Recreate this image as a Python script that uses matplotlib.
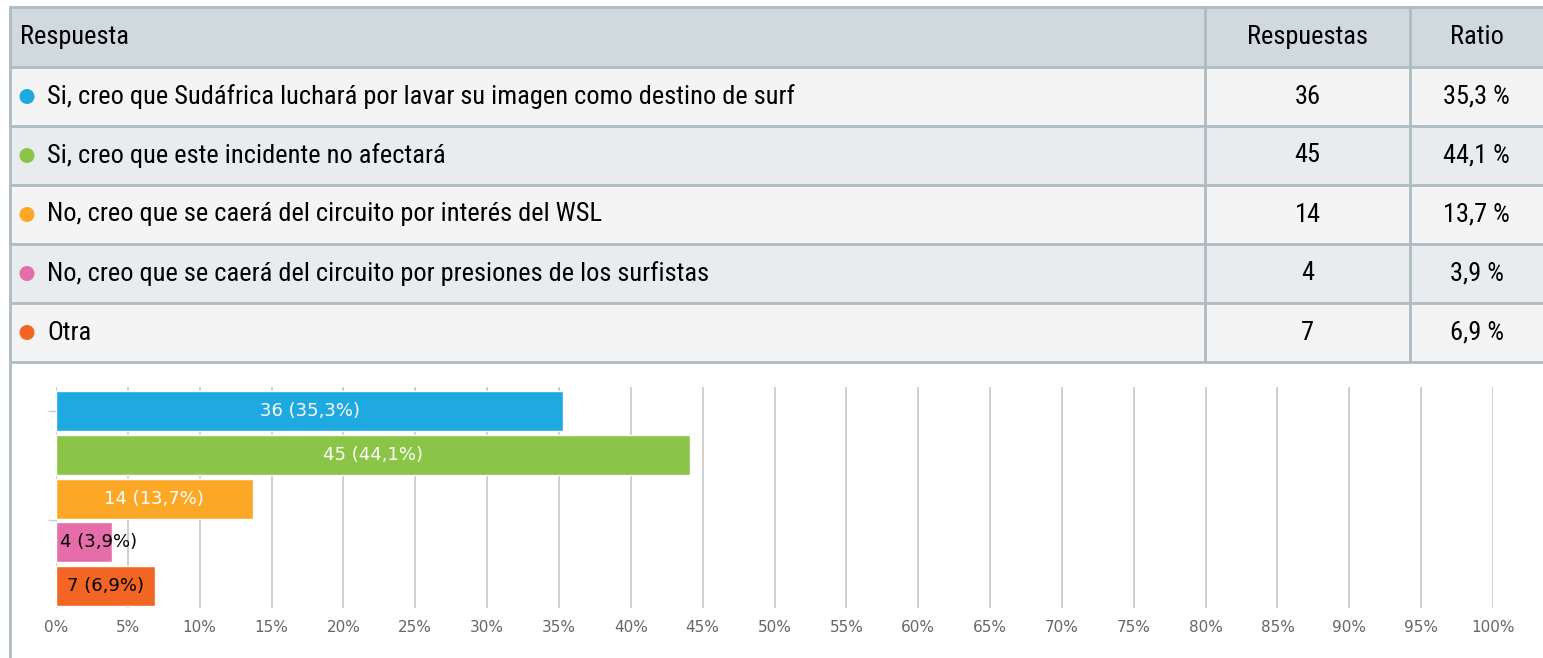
import matplotlib.pyplot as plt
from matplotlib import font_manager
from matplotlib.patches import Rectangle, Circle

# data
answers = [
    'Si, creo que Sudáfrica luchará por lavar su imagen como destino de surf',
    'Si, creo que este incidente no afectará',
    'No, creo que se caerá del circuito por interés del WSL',
    'No, creo que se caerá del circuito por presiones de los surfistas',
    'Otra',
]
counts = [36, 45, 14, 4, 7]
ratios = [35.3, 44.1, 13.7, 3.9, 6.9]
colors = ['#1fa9e1', '#8bc548', '#fca826', '#e56daa', '#f26522']
headers = ['Respuesta', 'Respuestas', 'Ratio']
xticks = list(range(0, 101, 5))


def pick_font(names, default='DejaVu Sans'):
    have = {f.name for f in font_manager.fontManager.ttflist}
    for n in names:
        if n in have:
            return n
    return default


table_font = pick_font(['Liberation Sans Narrow', 'DejaVu Sans Condensed', 'Roboto Condensed',
                        'Open Sans Condensed', 'Liberation Sans'])

W, H = 1543, 658
fig = plt.figure(figsize=(W / 100, H / 100), dpi=100)

# table drawn in pixel coordinates
bg = fig.add_axes([0, 0, 1, 1])
bg.set_xlim(0, W)
bg.set_ylim(H, 0)
bg.axis('off')

border = '#aebbc1'
top, row_h, head_h = 7, 59, 60
col_x = [10, 1205, 1410, W]
bg.add_patch(Rectangle((col_x[0], top), W - col_x[0], head_h, fc='#d0d9dd', ec='none'))
for i in range(len(answers)):
    y0 = top + head_h + i * row_h
    bg.add_patch(Rectangle((col_x[0], y0), W - col_x[0], row_h,
                           fc='#f4f4f4' if i % 2 == 0 else '#e8ecee', ec='none'))
bottom = top + head_h + len(answers) * row_h
for k in range(len(answers) + 2):
    y = top if k == 0 else top + head_h + (k - 1) * row_h
    bg.plot([col_x[0], W], [y, y], color=border, lw=2, solid_capstyle='butt')
bg.plot([col_x[0], col_x[0]], [top, H], color=border, lw=2)
for x in col_x[1:3]:
    bg.plot([x, x], [top, bottom], color=border, lw=2)

fs = 19
cy = top + head_h / 2
bg.text(20, cy, headers[0], fontsize=fs, family=table_font, va='center', ha='left')
bg.text((col_x[1] + col_x[2]) / 2, cy, headers[1], fontsize=fs, family=table_font, va='center', ha='center')
bg.text((col_x[2] + col_x[3]) / 2, cy, headers[2], fontsize=fs, family=table_font, va='center', ha='center')
for i, (a, c, r, col) in enumerate(zip(answers, counts, ratios, colors)):
    cy = top + head_h + i * row_h + row_h / 2
    bg.add_patch(Circle((27, cy), 7.5, fc=col, ec='none'))
    bg.text(47, cy, a, fontsize=fs, family=table_font, va='center', ha='left')
    bg.text((col_x[1] + col_x[2]) / 2, cy, str(c), fontsize=fs, family=table_font, va='center', ha='center')
    bg.text((col_x[2] + col_x[3]) / 2, cy, '{:.1f} %'.format(r).replace('.', ','),
            fontsize=fs, family=table_font, va='center', ha='center')

# bar chart
ax = fig.add_axes([56 / W, 50 / H, (1493 - 56) / W, 221 / H])
pos = list(range(len(counts)))
ax.barh(pos, ratios, height=0.91, color=colors, edgecolor='white', linewidth=1, zorder=2)
ax.set_xlim(0, 100)
ax.set_ylim(4.5, -0.55)
ax.set_xticks(xticks)
ax.set_xticklabels(['{}%'.format(t) for t in xticks])
ax.set_yticks([0, 2.5])
ax.set_yticklabels([])
ax.tick_params(axis='x', length=0, pad=9, labelsize=11, labelcolor='#666666')
ax.tick_params(axis='y', length=6, color='#c3d1df', width=1)
ax.grid(axis='x', color='#cccccc', lw=1.3, zorder=0)
for s in ax.spines.values():
    s.set_visible(False)

fig.canvas.draw()
rend = fig.canvas.get_renderer()
for p, c, r in zip(pos, counts, ratios):
    label = '{} ({:.1f}%)'.format(c, r).replace('.', ',')
    t = ax.text(r / 2, p, label, fontsize=13, va='center', ha='center',
                color='white' if r >= 10 else 'black', zorder=3)
    tw = t.get_window_extent(rend).width
    bw = ax.transData.transform((r, 0))[0] - ax.transData.transform((0, 0))[0]
    if tw > bw:
        t.set_ha('left')
        t.set_x(0.3)

fig.savefig('out.png', dpi=100)
